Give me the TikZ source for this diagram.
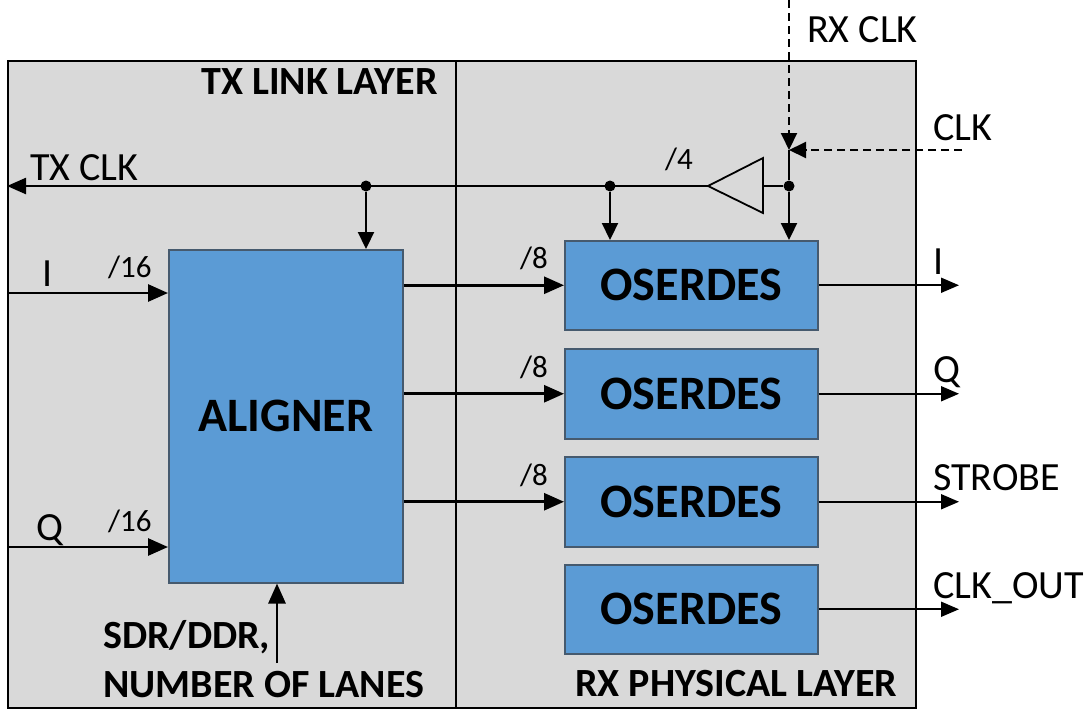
\documentclass[tikz,border=0pt]{standalone}
\usepackage{fontspec}
\setmainfont{Carlito}
\usetikzlibrary{arrows.meta}
\definecolor{bg}{RGB}{217,217,217}
\definecolor{blk}{RGB}{91,155,213}
\definecolor{bord}{RGB}{70,90,110}
\begin{document}
\begin{tikzpicture}[x=1pt,y=-1pt,
  blockbox/.style={draw=bord, line width=1.5pt, fill=blk, inner sep=0pt,
    font=\fontsize{48}{50}\selectfont\bfseries, anchor=north west},
  lbl/.style={font=\fontsize{40}{42}\selectfont, inner sep=0pt, anchor=base west},
  blbl/.style={font=\fontsize{40}{42}\selectfont\bfseries, inner sep=0pt, anchor=base west},
  buslbl/.style={font=\fontsize{31}{33}\selectfont, inner sep=0pt, anchor=base west},
  ar/.style={-{Triangle[length=20pt,width=17pt]}, line width=2.8pt},
  wire/.style={line width=2.4pt},
  outar/.style={-{Triangle[length=18pt,width=15pt]}, line width=1.8pt},
  clkar/.style={-{Triangle[length=17pt,width=16pt]}, line width=2.2pt},
  dashar/.style={-{Triangle[length=17pt,width=16pt]}, line width=2pt, dash pattern=on 8pt off 5pt},
  dot/.style={circle, fill=black, inner sep=0pt, minimum size=11pt}]
\useasboundingbox (0,0) rectangle (1091,713);
% frame
\node[draw, line width=2.2pt, fill=bg, minimum width=908pt, minimum height=647pt, inner sep=0pt, anchor=north west] (frame) at (7,60) {};
\coordinate (dtop) at (456,60);
\coordinate (dbot) at (456,707);
\draw[line width=2pt] (dtop) -- (dbot);
% layer titles
\node[blbl] (txl) at (201,94) {TX LINK LAYER};
\node[blbl] (rxl) at (575,696) {RX PHYSICAL LAYER};
% blocks
\node[blockbox, minimum width=234pt, minimum height=333pt] (al) at (168,249) {ALIGNER};
\node[blockbox, minimum width=253pt, minimum height=89pt] (o1) at (564,240) {OSERDES};
\node[blockbox, minimum width=253pt, minimum height=90pt] (o2) at (564,348) {OSERDES};
\node[blockbox, minimum width=253pt, minimum height=90pt] (o3) at (564,456) {OSERDES};
\node[blockbox, minimum width=253pt, minimum height=89pt] (o4) at (564,564) {OSERDES};
% clock network
\coordinate (rxtop) at (789,0);
\coordinate (clkin) at (962,150);
\coordinate (j) at (789,150);
\node[dot] (d1) at (366,186) {};
\node[dot] (d2) at (610,186) {};
\node[dot] (d3) at (789,186) {};
\coordinate (buftip) at (708,186);
\coordinate (bufbase) at (763,186);
\coordinate (txout) at (7,186);
\draw[line width=1.8pt] (buftip) -- (763,158) -- (763,213) -- cycle;
\draw[dashar] (rxtop) -- (j);
\draw[dashar] (clkin) -- (j);
\draw[wire] (j) -- (d3);
\draw[wire] (d3) -- (bufbase);
\draw[wire, -{Triangle[length=19pt,width=16pt]}] (buftip) -- (txout);
\draw[clkar] (d3) -- (d3 |- o1.north);
\draw[clkar] (d2) -- (d2 |- o1.north);
\draw[clkar] (d1) -- (d1 |- al.north);
% clock labels
\node[lbl] (rxclk) at (807,42) {RX CLK};
\node[lbl] (clk) at (933,140) {CLK};
\node[lbl] (txclk) at (30,180) {TX CLK};
\node[buslbl] (div4) at (665,169) {/4};
% inputs
\coordinate (iin) at (7,293);
\coordinate (qin) at (7,547);
\draw[ar] (iin) -- (al.west |- iin);
\draw[ar] (qin) -- (al.west |- qin);
\node[lbl] (ilbl) at (42,286) {I};
\node[lbl] (qlbl) at (36,540) {Q};
\node[buslbl] (b16a) at (108,277) {/16};
\node[buslbl] (b16b) at (108,531) {/16};
% aligner to oserdes
\draw[ar] (al.east |- o1.west) -- (o1.west);
\draw[ar] (al.east |- o2.west) -- (o2.west);
\draw[ar] (al.east |- o3.west) -- (o3.west);
\node[buslbl] (b8a) at (520,268) {/8};
\node[buslbl] (b8b) at (520,377) {/8};
\node[buslbl] (b8c) at (520,485) {/8};
% config input
\coordinate (sdr) at (277,663);
\draw[ar] (sdr) -- (sdr |- al.south);
\node[blbl] (sdrl) at (103,648) {SDR/DDR,};
\node[blbl] (lanes) at (103,697) {NUMBER OF LANES};
% outputs
\coordinate (outx) at (959,0);
\draw[outar] (o1.east) -- (o1.east -| outx);
\draw[outar] (o2.east) -- (o2.east -| outx);
\draw[outar] (o3.east) -- (o3.east -| outx);
\draw[outar] (o4.east) -- (o4.east -| outx);
\node[lbl] (oi) at (933,274) {I};
\node[lbl] (oq) at (933,382) {Q};
\node[lbl] (ostrobe) at (933,490) {STROBE};
\node[lbl] (oclk) at (933,598) {CLK\_OUT};
\end{tikzpicture}
\end{document}
